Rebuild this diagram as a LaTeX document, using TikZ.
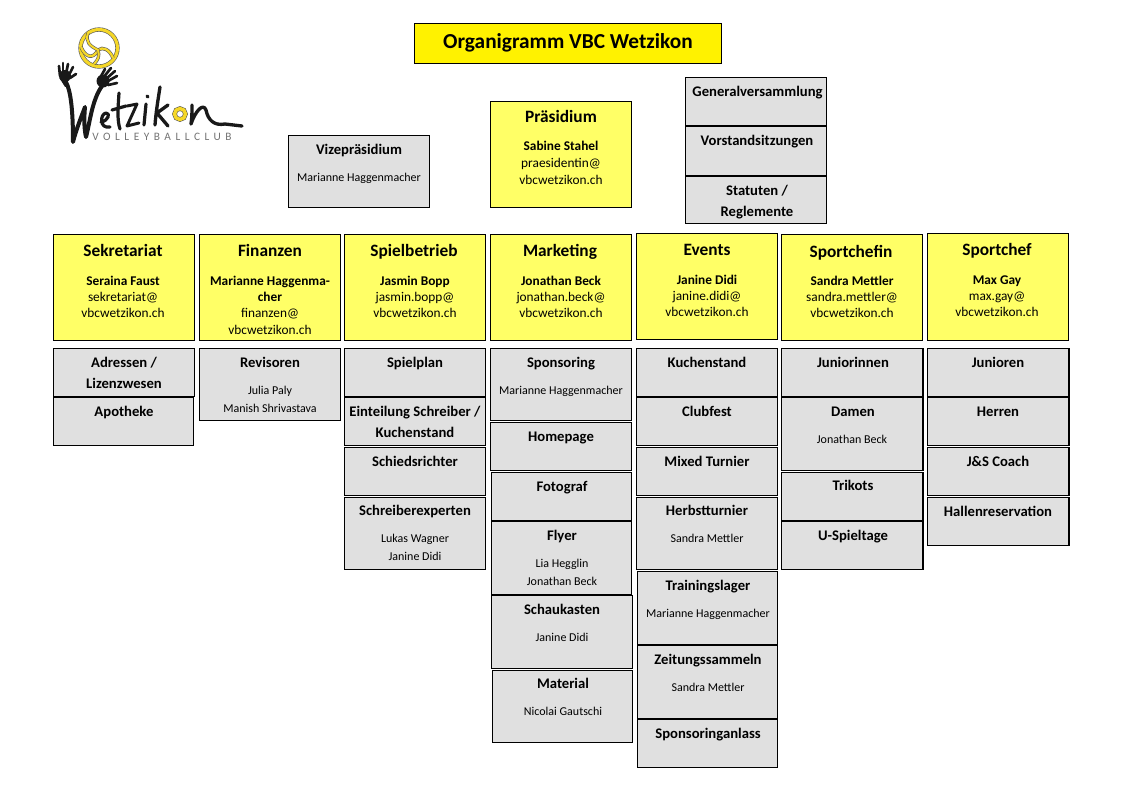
\documentclass[tikz,border=0pt]{standalone}
\usepackage{fontspec}
\setmainfont{Carlito}
\newfontfamily\logofont[LetterSpace=40]{Carlito}
\definecolor{gelbfeld}{RGB}{255,255,102}
\definecolor{graufeld}{RGB}{224,224,224}
\definecolor{logogelb}{RGB}{245,215,40}
\usetikzlibrary{positioning}
\tikzset{
  feld/.style 2 args={draw=black,line width=0.8pt,anchor=north west,inner sep=0pt,xshift=-0.6pt,minimum width=#1*0.75pt+0.2pt,minimum height=#2*0.75pt-0.5pt},
  gelbbox/.style 2 args={feld={#1}{#2},fill=gelbfeld},
  graubox/.style 2 args={feld={#1}{#2},fill=graufeld},
  zeile/.style={inner sep=0pt,yshift=-1.3pt,text height=1.45ex,text depth=0.45ex},
  haupttitel/.style={zeile,yshift=-2.2pt,font=\fontsize{16}{18}\bfseries\selectfont},
  kopf/.style={zeile,yshift=-1.3pt,font=\fontsize{13}{15}\bfseries\selectfont},
  titel/.style={zeile,yshift=-0.6pt,font=\fontsize{11}{13}\bfseries\selectfont},
  leiter/.style={zeile,font=\fontsize{10}{12}\bfseries\selectfont},
  mail/.style={zeile,font=\fontsize{10}{12}\selectfont},
  person/.style={zeile,font=\fontsize{9}{11}\selectfont},
  pinsel/.style={black!90,line width=3pt,line cap=round,line join=round},
  finger/.style={black!90,line width=2pt,line cap=round}
}
\begin{document}
\begin{tikzpicture}[x=0.75pt,y=-0.75pt]
    \useasboundingbox (0,0) rectangle (1122,794);

    % Logo
    \draw[black!65,line width=3.2pt] (99,48) circle (18.5);
    \draw[logogelb,line width=2.3pt] (99,48) circle (18.5);
    \draw[black!65,line width=2.6pt] (81,47) .. controls (85,57) and (93,60) .. (98,50) .. controls (103,46) and (110,50) .. (113,58);
    \draw[logogelb,line width=1.7pt] (81,47) .. controls (85,57) and (93,60) .. (98,50) .. controls (103,46) and (110,50) .. (113,58);
    \draw[black!65,line width=2.4pt] (88,33) .. controls (85,42) and (90,46) .. (98,50) .. controls (100,56) and (98,60) .. (94,64);
    \draw[logogelb,line width=1.5pt] (88,33) .. controls (85,42) and (90,46) .. (98,50) .. controls (100,56) and (98,60) .. (94,64);
    \fill[black!90] (65,76) circle (6);
    \foreach \ax/\ay/\bx/\by in {60/76/59/66,63/74/63/63,66/74/68/64,69/75/73/67,70/78/76/74,61/78/66/86} {
      \draw[finger] (\ax,\ay) -- (\bx,\by);
    }
    \fill[black!90] (103,81) circle (6.5);
    \foreach \ax/\ay/\bx/\by in {100/78/105/69,103/78/111/68,106/79/115/71,108/81/117/76,108/85/117/83} {
      \draw[finger] (\ax,\ay) -- (\bx,\by);
    }
    \draw[pinsel] (66,82) .. controls (70,90) and (73,105) .. (73,142) .. controls (76,130) and (82,115) .. (85,107) .. controls (84,118) and (84,128) .. (86,137) .. controls (90,122) and (92,100) .. (102,86);
    \draw[pinsel,line width=2.4pt] (101,122) .. controls (108,121) and (111,113) .. (106,113) .. controls (100,114) and (99,129) .. (110,127);
    \draw[pinsel,line width=2.4pt] (119,93) .. controls (118,108) and (117,120) .. (120,129) (112,110) -- (126,106);
    \draw[pinsel,line width=2.2pt] (127,106) -- (137,104) -- (127,126) -- (139,123);
    \draw[pinsel,line width=2.4pt] (146,104) -- (144,125) (147,96) -- (148,97);
    \draw[pinsel,line width=2.5pt] (160,87) .. controls (158,100) and (156,112) .. (155,125) (168,105) -- (157,113) -- (168,126);
    \draw[black!70,line width=3.4pt] (180,114) circle (5.5);
    \draw[logogelb,line width=2.6pt] (180,114) circle (5.5);
    \draw[pinsel,line width=2.5pt] (192,105) .. controls (192,112) and (192,118) .. (191,124) .. controls (195,112) and (203,102) .. (206,110) .. controls (208,120) and (214,126) .. (225,124) -- (242,126);
    \node[text=black!55,inner sep=0pt,font=\logofont\fontsize{8.5}{10}\selectfont] (logotext) at (162,137) {VOLLEYBALLCLUB};

    % Titel und obere Reihe
    \node[gelbbox={307}{41},fill=yellow] (titelfeld) at (414.5,23) {};
    \node[haupttitel] (titeltext) at (568,41) {Organigramm VBC Wetzikon};
    \node[graubox={141}{73}] (vize) at (288.5,135) {};
    \node[titel] (vizetitel) at (359,149) {Vizepräsidium};
    \node[person] (vizename) at (359,177) {Marianne Haggenmacher};
    \node[gelbbox={141}{107}] (praesidium) at (490.5,100.5) {};
    \node[kopf] (praesidiumkopf) at (561,116) {Präsidium};
    \node[leiter] (praesidiumname) at (561,146) {Sabine Stahel};
    \node[mail] (praesidiummail) at (561,163) {praesidentin@};
    \node[mail] (praesidiumweb) at (561,180) {vbcwetzikon.ch};
    \node[graubox={141}{49}] (general) at (685.5,77) {};
    \node[titel] (generaltitel) at (757.5,91) {Generalversammlung};
    \node[graubox={141}{50}] (vorstand) at (685.5,126) {};
    \node[titel] (vorstandtitel) at (757,140) {Vorstandsitzungen};
    \node[graubox={141}{48}] (statuten) at (685.5,176) {};
    \node[titel] (statutentitel) at (757,190) {Statuten /};
    \node[titel] (statutentitelb) at (757,211) {Reglemente};

    % Sekretariat
    \node[gelbbox={141}{107}] (sekretariat) at (53.5,234) {};
    \node[kopf] (sekretariatkopf) at (123,250) {Sekretariat};
    \node[leiter] (sekretariatname) at (123,281) {Seraina Faust};
    \node[mail] (sekretariatmail) at (123,297) {sekretariat@};
    \node[mail] (sekretariatweb) at (123,313) {vbcwetzikon.ch};
    \node[graubox={141}{49}] (adressen) at (53.5,348) {};
    \node[titel] (adressentitel) at (124,362) {Adressen /};
    \node[titel] (adressentitelb) at (124,383) {Lizenzwesen};
    \node[graubox={140}{49}] (apotheke) at (53.5,397) {};
    \node[titel] (apotheketitel) at (124,411) {Apotheke};

    % Finanzen
    \node[gelbbox={141}{107}] (finanzen) at (199.5,234) {};
    \node[kopf] (finanzenkopf) at (270,250) {Finanzen};
    \node[leiter] (finanzenname) at (270,281) {Marianne Haggenma-};
    \node[leiter] (finanzennameb) at (270,297) {cher};
    \node[mail] (finanzenmail) at (270,313) {finanzen@};
    \node[mail] (finanzenweb) at (270,330) {vbcwetzikon.ch};
    \node[graubox={141}{73}] (revisoren) at (199.5,348) {};
    \node[titel] (revisorentitel) at (270,362) {Revisoren};
    \node[person] (revisorenname) at (270,390) {Julia Paly};
    \node[person] (revisorennameb) at (270,408) {Manish Shrivastava};

    % Spielbetrieb
    \node[gelbbox={141}{107}] (spielbetrieb) at (344.5,234) {};
    \node[kopf] (spielbetriebkopf) at (414,250) {Spielbetrieb};
    \node[leiter] (spielbetriebname) at (415,281) {Jasmin Bopp};
    \node[mail] (spielbetriebmail) at (415,297) {jasmin.bopp@};
    \node[mail] (spielbetriebweb) at (415,313) {vbcwetzikon.ch};
    \node[graubox={141}{49}] (spielplan) at (344.5,348) {};
    \node[titel] (spielplantitel) at (415,362) {Spielplan};
    \node[graubox={141}{49}] (einteilung) at (344.5,397) {};
    \node[titel] (einteilungtitel) at (415,411) {Einteilung Schreiber /};
    \node[titel] (einteilungtitelb) at (415,432) {Kuchenstand};
    \node[graubox={141}{49}] (schiedsrichter) at (344.5,447) {};
    \node[titel] (schiedsrichtertitel) at (415,461) {Schiedsrichter};
    \node[graubox={141}{73}] (schreiber) at (344.5,497) {};
    \node[titel] (schreibertitel) at (415,510) {Schreiberexperten};
    \node[person] (schreibername) at (415,538) {Lukas Wagner};
    \node[person] (schreibernameb) at (415,556) {Janine Didi};

    % Marketing
    \node[gelbbox={141}{107}] (marketing) at (490.5,234) {};
    \node[kopf] (marketingkopf) at (560,250) {Marketing};
    \node[leiter] (marketingname) at (561,281) {Jonathan Beck};
    \node[mail] (marketingmail) at (561,297) {jonathan.beck@};
    \node[mail] (marketingweb) at (561,313) {vbcwetzikon.ch};
    \node[graubox={141}{73}] (sponsoring) at (490.5,348) {};
    \node[titel] (sponsoringtitel) at (561,362) {Sponsoring};
    \node[person] (sponsoringname) at (561,390) {Marianne Haggenmacher};
    \node[graubox={141}{49}] (homepage) at (490.5,422) {};
    \node[titel] (homepagetitel) at (561,436) {Homepage};
    \node[graubox={140}{49}] (fotograf) at (491.5,472) {};
    \node[titel] (fotograftitel) at (562,486) {Fotograf};
    \node[graubox={140}{74}] (flyer) at (491.5,521) {};
    \node[titel] (flyertitel) at (562,535) {Flyer};
    \node[person] (flyername) at (562,563) {Lia Hegglin};
    \node[person] (flyernameb) at (562,581) {Jonathan Beck};
    \node[graubox={141}{74}] (schaukasten) at (491.5,595) {};
    \node[titel] (schaukastentitel) at (562,609) {Schaukasten};
    \node[person] (schaukastenname) at (562,637) {Janine Didi};
    \node[graubox={140}{73}] (material) at (492.5,670) {};
    \node[titel] (materialtitel) at (563,683) {Material};
    \node[person] (materialname) at (563,711) {Nicolai Gautschi};

    % Events
    \node[gelbbox={141}{107}] (events) at (636.5,233) {};
    \node[kopf] (eventskopf) at (707,249) {Events};
    \node[leiter] (eventsname) at (707,280) {Janine Didi};
    \node[mail] (eventsmail) at (707,296) {janine.didi@};
    \node[mail] (eventsweb) at (707,312) {vbcwetzikon.ch};
    \node[graubox={141}{49}] (kuchenstand) at (636.5,348) {};
    \node[titel] (kuchenstandtitel) at (707,362) {Kuchenstand};
    \node[graubox={141}{49}] (clubfest) at (636.5,397) {};
    \node[titel] (clubfesttitel) at (707,411) {Clubfest};
    \node[graubox={141}{49}] (mixed) at (636.5,447) {};
    \node[titel] (mixedtitel) at (707,461) {Mixed Turnier};
    \node[graubox={141}{73}] (herbst) at (636.5,497) {};
    \node[titel] (herbsttitel) at (707,510) {Herbstturnier};
    \node[person] (herbstname) at (707,538) {Sandra Mettler};
    \node[graubox={140}{74}] (training) at (637.5,571) {};
    \node[titel] (trainingtitel) at (708,585) {Trainingslager};
    \node[person] (trainingname) at (708,613) {Marianne Haggenmacher};
    \node[graubox={140}{74}] (zeitung) at (637.5,645) {};
    \node[titel] (zeitungtitel) at (708,659) {Zeitungssammeln};
    \node[person] (zeitungname) at (708,687) {Sandra Mettler};
    \node[graubox={140}{49}] (sponsoringanlass) at (637.5,719) {};
    \node[titel] (sponsoringanlasstitel) at (708,733) {Sponsoringanlass};

    % Sportchefin
    \node[gelbbox={141}{107}] (sportchefin) at (781.5,234) {};
    \node[kopf] (sportchefinkopf) at (851,251) {Sportchefin};
    \node[leiter] (sportchefinname) at (852,281) {Sandra Mettler};
    \node[mail] (sportchefinmail) at (852,297) {sandra.mettler@};
    \node[mail] (sportchefinweb) at (852,313) {vbcwetzikon.ch};
    \node[graubox={141}{49}] (juniorinnen) at (782,348) {};
    \node[titel] (juniorinnentitel) at (853,362) {Juniorinnen};
    \node[graubox={141}{74}] (damen) at (782,397) {};
    \node[titel] (damentitel) at (853,411) {Damen};
    \node[person] (damenname) at (852,439) {Jonathan Beck};
    \node[graubox={141}{49}] (trikots) at (782,472) {};
    \node[titel] (trikotstitel) at (853,485) {Trikots};
    \node[graubox={141}{49}] (spieltage) at (782,521) {};
    \node[titel] (spieltagetitel) at (853,535) {U-Spieltage};

    % Sportchef
    \node[gelbbox={141}{108}] (sportchef) at (927.5,233) {};
    \node[kopf] (sportchefkopf) at (997,249) {Sportchef};
    \node[leiter] (sportchefname) at (997,280) {Max Gay};
    \node[mail] (sportchefmail) at (997,296) {max.gay@};
    \node[mail] (sportchefweb) at (997,312) {vbcwetzikon.ch};
    \node[graubox={141}{49}] (junioren) at (928,348) {};
    \node[titel] (juniorentitel) at (998,362) {Junioren};
    \node[graubox={141}{49}] (herren) at (928,397) {};
    \node[titel] (herrentitel) at (998,411) {Herren};
    \node[graubox={141}{49}] (jscoach) at (928,447) {};
    \node[titel] (jscoachtitel) at (998,461) {J\&S Coach};
    \node[graubox={141}{49}] (hallen) at (928,497) {};
    \node[titel] (hallentitel) at (998,511) {Hallenreservation};
\end{tikzpicture}
\end{document}
